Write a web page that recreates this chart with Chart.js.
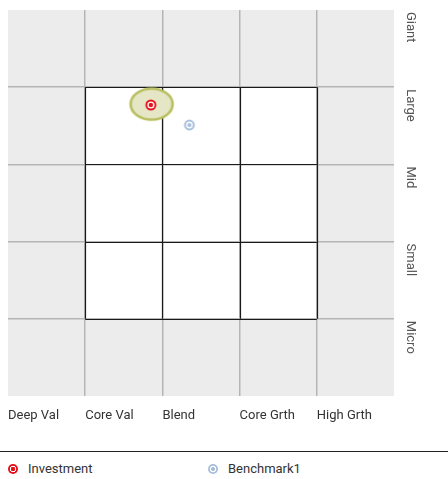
<!DOCTYPE html>
<html>
<head>
<meta charset="utf-8">
<script src="https://cdn.jsdelivr.net/npm/chart.js@4"></script>
<style>
  html, body { margin: 0; padding: 0; background: #fff; }
  body { width: 448px; height: 479px; position: relative; overflow: hidden;
         font-family: 'Roboto', sans-serif; }
  #wrap { position: absolute; left: 0; top: 0; width: 448px; height: 440px; }
  #rule { position: absolute; left: 0; top: 451px; width: 448px; height: 1px; background: #222; }
  .leg { position: absolute; top: 460px; font-size: 13px; color: #333; line-height: 18px; }
  .leg i { display: inline-block; width: 10px; height: 10px; border-radius: 50%;
           vertical-align: -1px; margin-right: 10px; }
</style>
</head>
<body>
<div id="wrap"><canvas id="box"></canvas></div>
<div id="rule"></div>
<div class="leg" style="left:8px"><i style="background: radial-gradient(circle, #e8101a 0 2px, #fff 2.5px 3px, #e8101a 3.5px)"></i>Investment</div>
<div class="leg" style="left:208px"><i style="background: radial-gradient(circle, #a6bedb 0 1.8px, #fff 2.3px 3.1px, #a6bedb 3.6px)"></i>Benchmark1</div>

<script>
// --- data ---
const styleLabels = ['Deep Val', 'Core Val', 'Blend', 'Core Grth', 'High Grth'];
const sizeLabels = ['Giant', 'Large', 'Mid', 'Small', 'Micro'];
const investmentPts = [{ x: 1.85, y: 3.77 }];
const benchmarkPts = [{ x: 2.35, y: 3.51 }];
const zonePts = [{ x: 1.86, y: 3.78 }];

const FONT = "Roboto, sans-serif";

// --- point icons ---
function makeIcon(size, draw) {
    const c = document.createElement('canvas');
    c.width = size; c.height = size;
    draw(c.getContext('2d'), size / 2);
    return c;
}
const targetIcon = makeIcon(14, (g, m) => {
    g.fillStyle = '#e8101a'; g.beginPath(); g.arc(m, m, 5.5, 0, Math.PI * 2); g.fill();
    g.fillStyle = '#fff'; g.beginPath(); g.arc(m, m, 3.6, 0, Math.PI * 2); g.fill();
    g.fillStyle = '#e8101a'; g.beginPath(); g.arc(m, m, 2.2, 0, Math.PI * 2); g.fill();
});
const benchIcon = makeIcon(14, (g, m) => {
    g.strokeStyle = '#a6bedb'; g.lineWidth = 2;
    g.beginPath(); g.arc(m, m, 4.4, 0, Math.PI * 2); g.stroke();
    g.fillStyle = '#a6bedb'; g.beginPath(); g.arc(m, m, 2, 0, Math.PI * 2); g.fill();
});
const zoneIcon = makeIcon(50, (g, m) => {
    g.fillStyle = '#e5e6c6'; g.strokeStyle = '#b9bf5f'; g.lineWidth = 2.6;
    g.beginPath(); g.ellipse(m, m, 21, 15.5, 0, 0, Math.PI * 2); g.fill(); g.stroke();
});

// --- background / inner box / right labels ---
const boxPlugin = {
    id: 'boxPlugin',
    beforeDraw(chart) {
        const { ctx, chartArea: a, scales: { x, y } } = chart;
        ctx.save();
        ctx.fillStyle = '#ececec';
        ctx.fillRect(a.left, a.top, a.right - a.left, a.bottom - a.top);
        ctx.fillStyle = '#fff';
        ctx.fillRect(x.getPixelForValue(1), y.getPixelForValue(4),
            x.getPixelForValue(4) - x.getPixelForValue(1), y.getPixelForValue(1) - y.getPixelForValue(4));
        ctx.restore();
    },
    beforeDatasetsDraw(chart) {
        const { ctx, scales: { x, y } } = chart;
        ctx.save();
        ctx.strokeStyle = '#1a1a1a'; ctx.lineWidth = 1.2;
        ctx.beginPath();
        for (let v = 1; v <= 4; v++) {
            const px = Math.round(x.getPixelForValue(v)) + 0.5;
            ctx.moveTo(px, y.getPixelForValue(4)); ctx.lineTo(px, y.getPixelForValue(1));
            const py = Math.round(y.getPixelForValue(v)) + 0.5;
            ctx.moveTo(x.getPixelForValue(1), py); ctx.lineTo(x.getPixelForValue(4), py);
        }
        ctx.stroke();
        // size labels down the right side, rotated
        ctx.fillStyle = '#555';
        ctx.font = '13px ' + FONT;
        ctx.textAlign = 'left'; ctx.textBaseline = 'middle';
        sizeLabels.forEach((lab, i) => {
            ctx.save();
            ctx.translate(chart.chartArea.right + 16, y.getPixelForValue(5 - i) + 2);
            ctx.rotate(Math.PI / 2);
            ctx.fillText(lab, 0, 0);
            ctx.restore();
        });
        ctx.restore();
    }
};

const gridColor = c => (c.tick.value > 0 && c.tick.value < 5) ? '#b5b5b5' : 'rgba(0,0,0,0)';

new Chart(document.getElementById('box'), {
    type: 'scatter',
    data: {
        datasets: [
            { label: 'Investment', data: investmentPts, pointStyle: targetIcon, pointRadius: 6 },
            { label: 'Benchmark1', data: benchmarkPts, pointStyle: benchIcon, pointRadius: 6 },
            { label: 'zone', data: zonePts, pointStyle: zoneIcon, pointRadius: 20 }
        ]
    },
    options: {
        responsive: true, maintainAspectRatio: false, animation: false,
        layout: { autoPadding: false, padding: { left: 8, top: 10, right: 54, bottom: 0 } },
        plugins: { legend: { display: false }, tooltip: { enabled: false } },
        scales: {
            x: {
                min: 0, max: 5,
                afterFit(s) { s.height = 44; s.paddingLeft = 0; s.paddingRight = 0; },
                border: { display: false },
                grid: { drawTicks: false, lineWidth: 1.5, color: gridColor },
                ticks: {
                    stepSize: 1, align: 'start', padding: 12, color: '#333',
                    font: { family: FONT, size: 13 },
                    callback: v => styleLabels[v] || ''
                }
            },
            y: {
                min: 0, max: 5,
                afterFit(s) { s.width = 0; s.paddingTop = 0; s.paddingBottom = 0; },
                border: { display: false },
                grid: { drawTicks: false, lineWidth: 1.5, color: gridColor },
                ticks: { stepSize: 1, display: false }
            }
        }
    },
    plugins: [boxPlugin]
});
</script>
</body>
</html>
